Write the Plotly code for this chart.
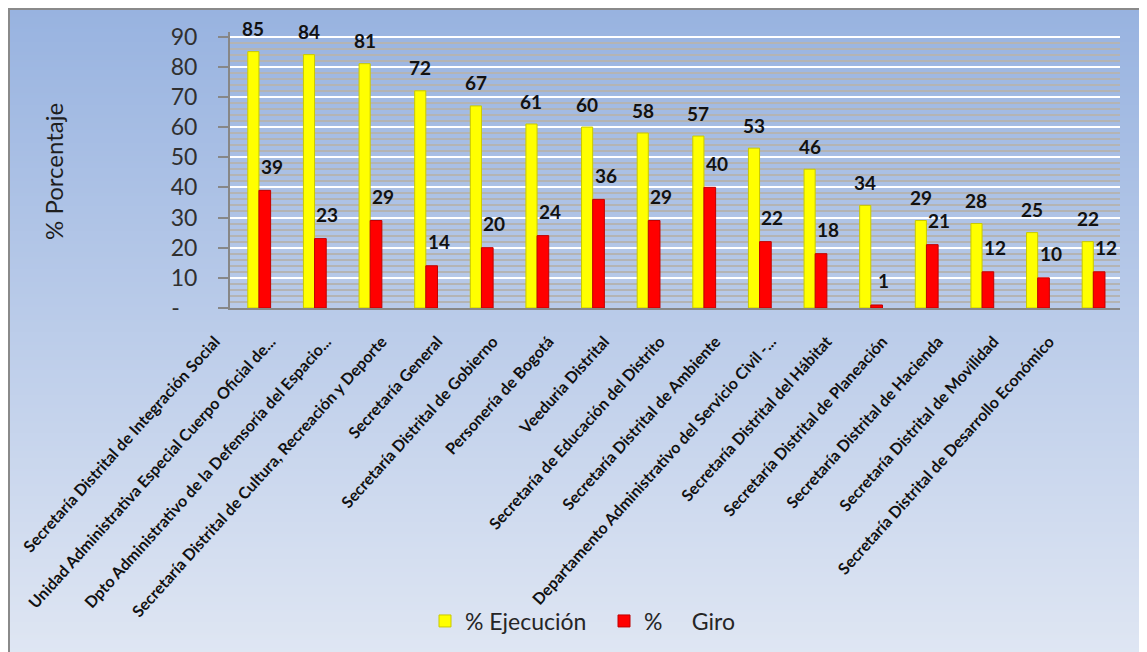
import base64, struct, zlib
import plotly.graph_objects as go

categories = [
    "Secretaría Distrital de Integración Social",
    "Unidad Administrativa Especial Cuerpo Oficial de...",
    "Dpto Administrativo de la Defensoría del Espacio...",
    "Secretaría Distrital de Cultura, Recreación y Deporte",
    "Secretaría General",
    "Secretaría Distrital de Gobierno",
    "Personería de Bogotá",
    "Veeduria Distrital",
    "Secretaría de Educación del Distrito",
    "Secretaría Distrital de Ambiente",
    "Departamento Administrativo del Servicio Civil -...",
    "Secretaría Distrital del Hábitat",
    "Secretaría Distrital de Planeación",
    "Secretaría Distrital de Hacienda",
    "Secretaría Distrital de Movilidad",
    "Secretaría Distrital de Desarrollo Económico",
]
ejecucion = [85, 84, 81, 72, 67, 61, 60, 58, 57, 53, 46, 34, 29, 28, 25, 22]
giro = [39, 23, 29, 14, 20, 24, 36, 29, 40, 22, 18, 1, 21, 12, 10, 12]
y_tickvals = [0, 10, 20, 30, 40, 50, 60, 70, 80, 90]
y_ticktext = ["-\u00a0\u00a0\u00a0", "10", "20", "30", "40", "50", "60", "70", "80", "90"]
series_names = ["% Ejecución", "%\u00a0\u00a0\u00a0\u00a0\u00a0Giro"]

# page body adds an 8px offset; figure spans window px 8..1147 x 8..652
OFF = 8
W, H = 1147 - OFF, 652 - OFF
ML, MR, MT, MB = 230 - OFF, 27, 32 - OFF, 344
PW, PH = W - ML - MR, H - MT - MB

def px2x(px):  # window pixel -> paper x
    return (px - OFF - ML) / PW

def py2y(py):  # window pixel -> paper y
    return (H - MB - (py - OFF)) / PH

def gradient_png(c0, c1, h=256, w=4):
    rows = []
    for i in range(h):
        t = i / (h - 1)
        col = bytes(round(a + (b - a) * t) for a, b in zip(c0, c1))
        rows.append(b"\x00" + col * w)
    raw = b"".join(rows)
    def chunk(tag, data):
        return struct.pack(">I", len(data)) + tag + data + struct.pack(">I", zlib.crc32(tag + data) & 0xFFFFFFFF)
    png = b"\x89PNG\r\n\x1a\n" + chunk(b"IHDR", struct.pack(">IIBBBBB", w, h, 8, 2, 0, 0, 0)) \
        + chunk(b"IDAT", zlib.compress(raw)) + chunk(b"IEND", b"")
    return "data:image/png;base64," + base64.b64encode(png).decode()

FONT = "Lato"
xs = list(range(len(categories)))

fig = go.Figure()
fig.add_trace(go.Bar(
    x=xs, y=ejecucion, name=series_names[0],
    width=0.2, offset=-0.2,
    marker=dict(color="#ffff00", line=dict(color="#c9c900", width=1)),
))
fig.add_trace(go.Bar(
    x=xs, y=giro, name=series_names[1],
    width=0.21, offset=0.0,
    marker=dict(color="#ff0000", line=dict(color="#c00000", width=1)),
))

annotations = []
for i, v in enumerate(ejecucion):
    annotations.append(dict(x=i - 0.1, y=v, xref="x", yref="y", text=str(v), showarrow=False,
                            yshift=23, font=dict(family=FONT, size=19, color="#111111", weight="bold")))
for i, v in enumerate(giro):
    annotations.append(dict(x=i + 0.105, y=v, xref="x", yref="y", text=str(v), showarrow=False,
                            yshift=24, xshift=7, font=dict(family=FONT, size=19, color="#111111", weight="bold")))
annotations.append(dict(x=px2x(53), y=py2y(172), xref="paper", yref="paper", text="% Porcentaje",
                        textangle=-90, showarrow=False, xanchor="center", yanchor="middle",
                        font=dict(family=FONT, size=24, color="#1e1e1e")))

shapes = [
    dict(type="line", xref="paper", yref="paper", x0=px2x(8), x1=px2x(1147), y0=py2y(9), y1=py2y(9),
         line=dict(color="#8a8a8a", width=2), layer="below"),
    dict(type="line", xref="paper", yref="paper", x0=px2x(9), x1=px2x(9), y0=py2y(8), y1=py2y(652),
         line=dict(color="#8a8a8a", width=2), layer="below"),
]

fig.update_layout(
    width=W, height=H,
    margin=dict(l=ML, r=MR, t=MT, b=MB, autoexpand=False),
    paper_bgcolor="white",
    plot_bgcolor="rgba(0,0,0,0)",
    barmode="overlay",
    showlegend=True,
    legend=dict(orientation="h", x=px2x(425), xanchor="left", y=py2y(621), yanchor="middle",
                font=dict(family=FONT, size=23, color="#262626"), bgcolor="rgba(0,0,0,0)",
                entrywidth=134, entrywidthmode="pixels"),
    images=[dict(source=gradient_png((152, 179, 224), (223, 230, 243)), xref="paper", yref="paper",
                 x=px2x(8), y=py2y(8), sizex=(W + 2) / PW, sizey=(H + 2) / PH,
                 xanchor="left", yanchor="top", sizing="stretch", layer="below")],
    shapes=shapes,
    annotations=annotations,
    xaxis=dict(range=[-0.52, 15.48], tickvals=xs, ticktext=categories, tickangle=-48,
               showgrid=False, zeroline=False, showline=True, linecolor="#878787", linewidth=2,
               ticks="", ticklabelshift=-44, ticklabelstandoff=16,
               tickfont=dict(family=FONT, size=16, color="#111111", weight="bold")),
    yaxis=dict(range=[0, 91.5], tickvals=y_tickvals, ticktext=y_ticktext,
               showgrid=True, gridcolor="#ffffff", gridwidth=2, zeroline=False,
               showline=True, linecolor="#878787", linewidth=2,
               ticks="outside", ticklen=10, tickcolor="#878787", tickwidth=2,
               ticklabelstandoff=16,
               minor=dict(dtick=2, showgrid=True, gridcolor="#b4b4b4", gridwidth=1.5),
               tickfont=dict(family=FONT, size=23, color="#303030")),
)

fig.write_html("out.html")
